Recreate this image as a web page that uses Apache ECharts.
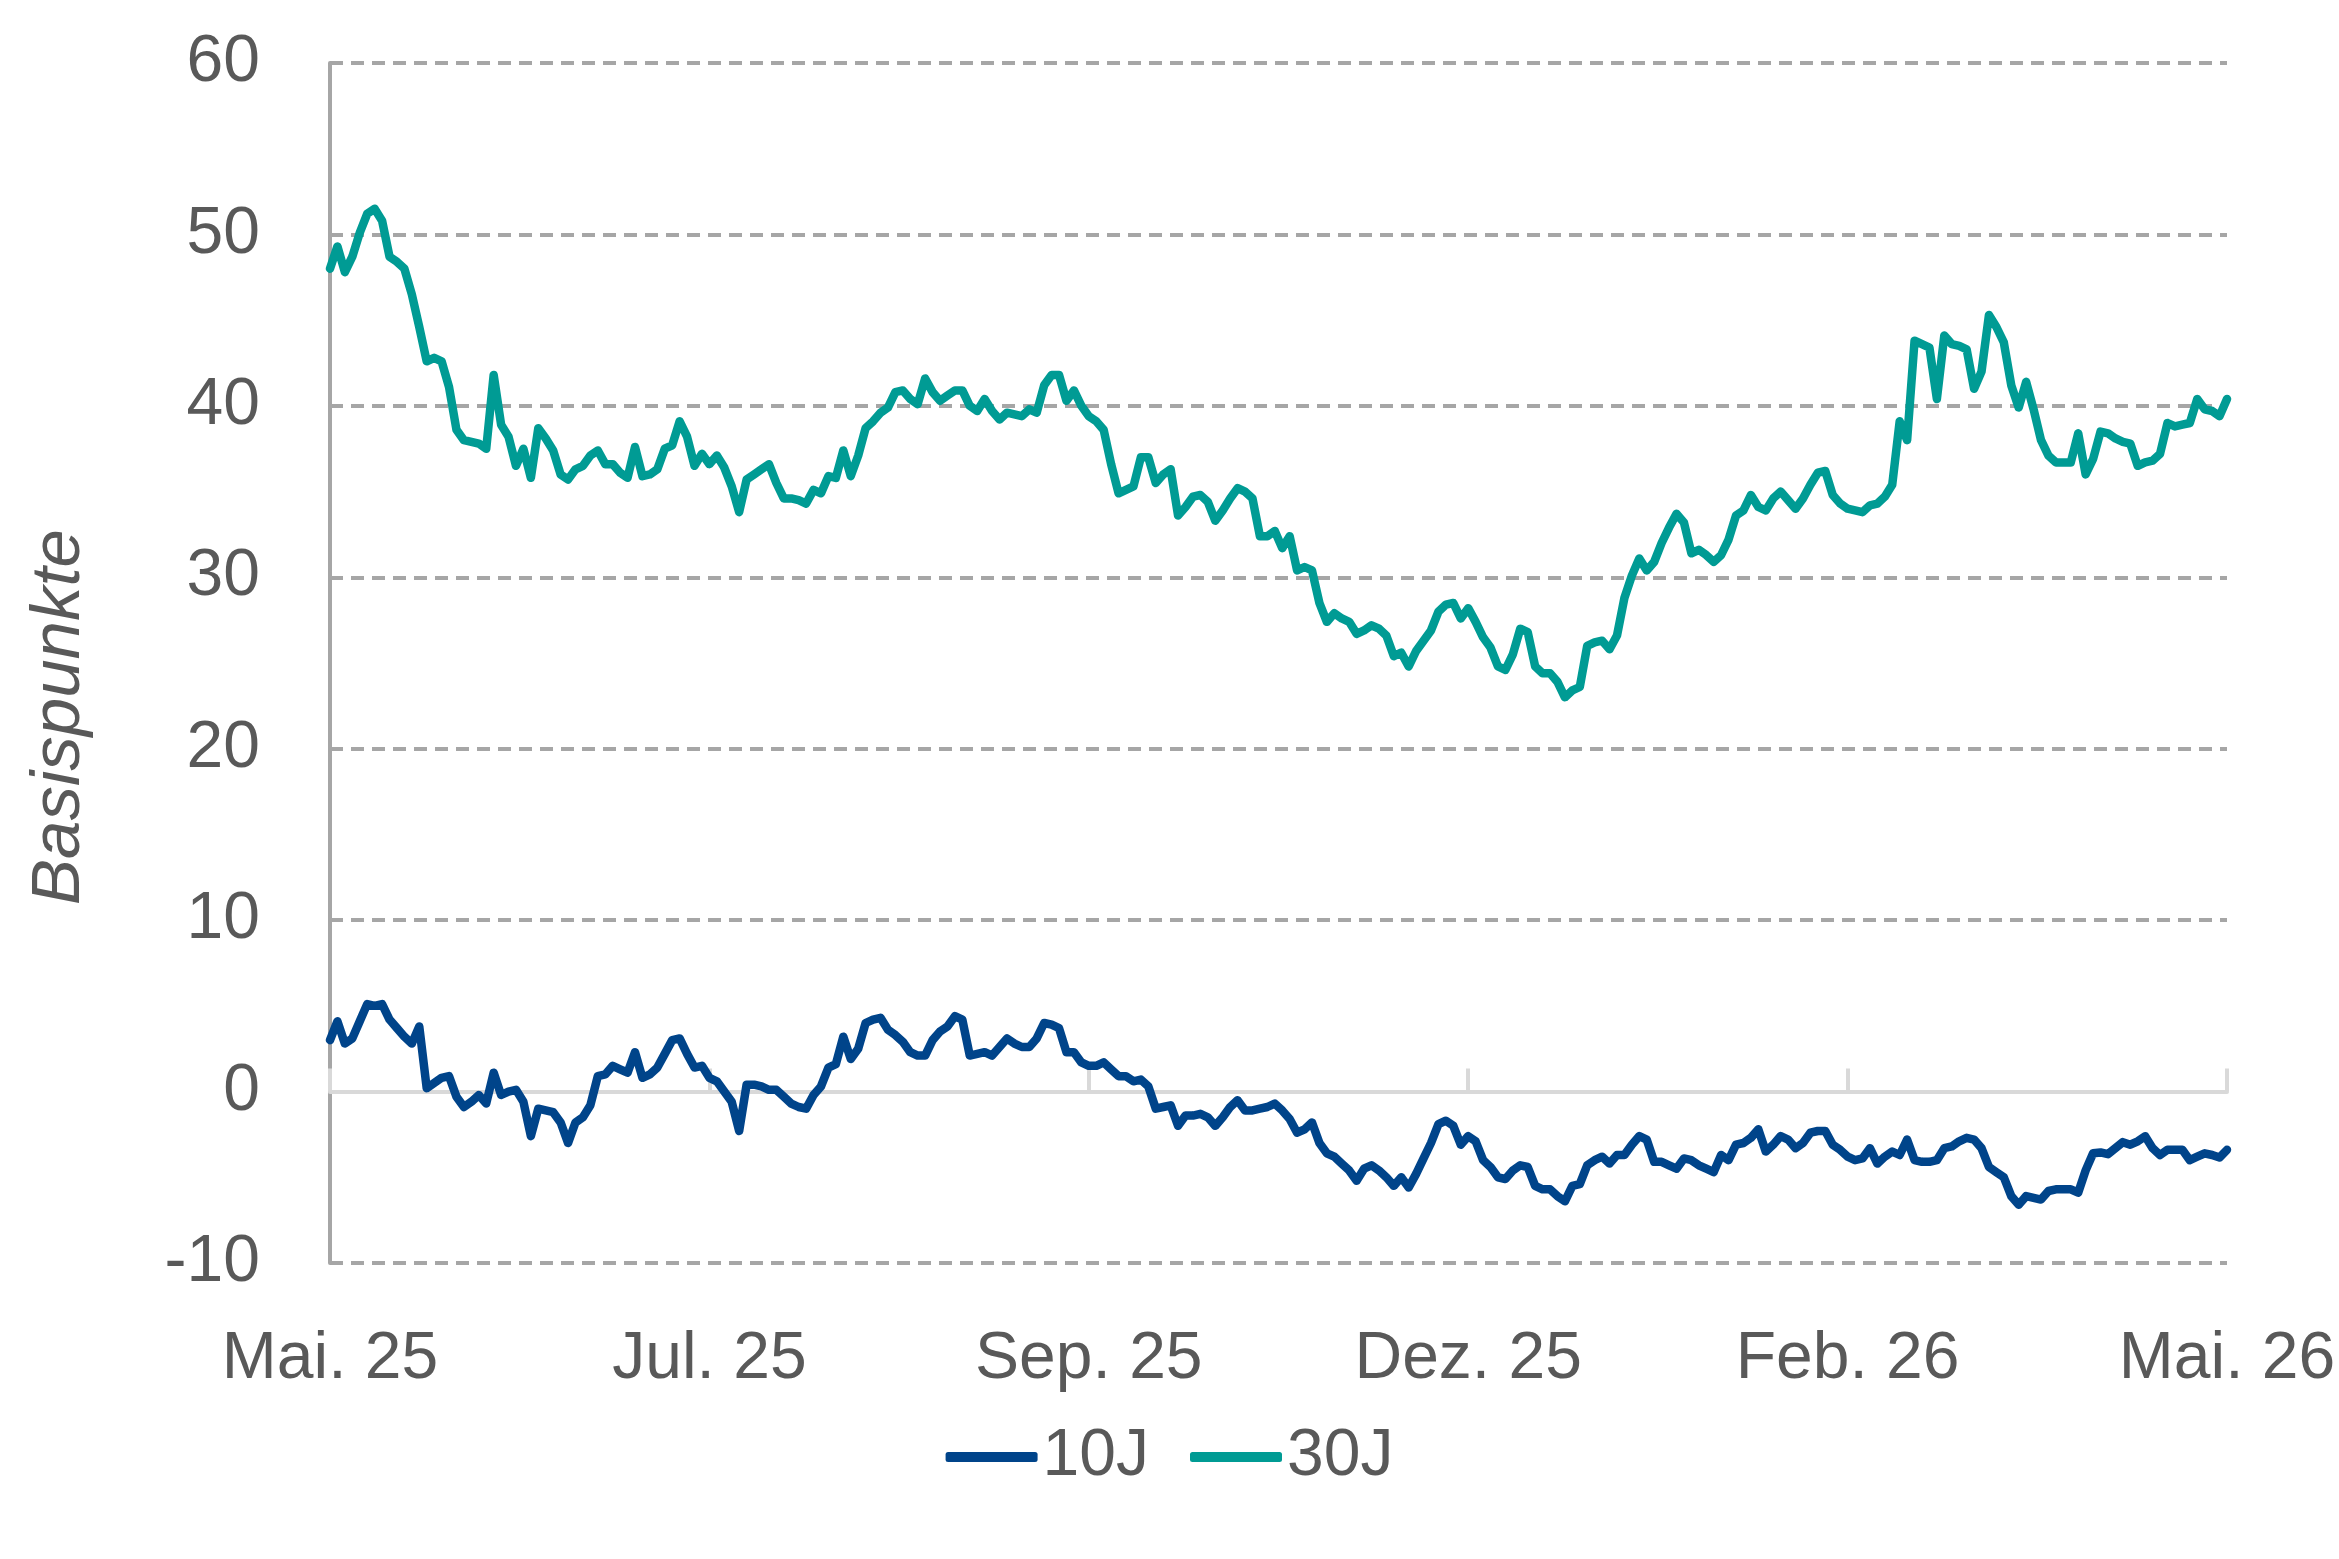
<!DOCTYPE html>
<html>
<head>
<meta charset="utf-8">
<script src="https://cdn.jsdelivr.net/npm/echarts@6/dist/echarts.min.js"></script>
<style>
html,body{margin:0;padding:0;background:#fff;}
#chart{width:2339px;height:1559px;}
</style>
</head>
<body>
<div id="chart"></div>
<script>
const tickLabels = ['Mai. 25', 'Jul. 25', 'Sep. 25', 'Dez. 25', 'Feb. 26', 'Mai. 26'];
const seriesNames = ['10J', '30J'];
const yTicks = [-10, 0, 10, 20, 30, 40, 50, 60];

const values10J = [
3.0,4.1,2.8,3.1,4.1,5.1,5.0,5.1,4.2,3.7,
3.2,2.8,3.8,0.2,0.5,0.8,0.9,-0.3,-0.9,-0.6,
-0.2,-0.7,1.1,-0.2,0.0,0.1,-0.6,-2.6,-1.0,-1.1,
-1.2,-1.8,-3.0,-1.8,-1.5,-0.8,0.9,1.0,1.5,1.3,
1.1,2.3,0.8,1.0,1.4,2.2,3.0,3.1,2.2,1.4,
1.5,0.8,0.6,0.0,-0.6,-2.3,0.4,0.4,0.3,0.1,
0.1,-0.3,-0.7,-0.9,-1.0,-0.2,0.3,1.4,1.6,3.2,
1.9,2.5,4.0,4.2,4.3,3.6,3.3,2.9,2.3,2.1,
2.1,3.0,3.5,3.8,4.4,4.2,2.1,2.2,2.3,2.1,
2.6,3.1,2.8,2.6,2.6,3.1,4.0,3.9,3.7,2.3,
2.3,1.7,1.5,1.5,1.7,1.3,0.9,0.9,0.6,0.7,
0.3,-1.0,-0.9,-0.8,-2.0,-1.4,-1.4,-1.3,-1.5,-2.0,
-1.5,-0.9,-0.5,-1.1,-1.1,-1.0,-0.9,-0.7,-1.1,-1.6,
-2.4,-2.2,-1.8,-3.0,-3.6,-3.8,-4.2,-4.6,-5.2,-4.5,
-4.3,-4.6,-5.0,-5.5,-5.0,-5.6,-4.8,-3.9,-3.0,-1.9,
-1.7,-2.0,-3.1,-2.6,-2.9,-4.0,-4.4,-5.0,-5.1,-4.6,
-4.3,-4.4,-5.5,-5.7,-5.7,-6.1,-6.4,-5.5,-5.4,-4.3,
-4.0,-3.8,-4.2,-3.7,-3.7,-3.1,-2.6,-2.8,-4.1,-4.1,
-4.3,-4.5,-3.9,-4.0,-4.3,-4.5,-4.7,-3.7,-4.0,-3.1,
-3.0,-2.7,-2.2,-3.5,-3.1,-2.6,-2.8,-3.3,-3.0,-2.4,
-2.3,-2.3,-3.1,-3.4,-3.8,-4.0,-3.9,-3.3,-4.2,-3.8,
-3.5,-3.7,-2.8,-4.0,-4.1,-4.1,-4.0,-3.3,-3.2,-2.9,
-2.7,-2.8,-3.3,-4.4,-4.7,-5.0,-6.1,-6.6,-6.1,-6.2,
-6.3,-5.8,-5.7,-5.7,-5.7,-5.9,-4.6,-3.6,-3.55,-3.65,
-3.3,-2.95,-3.1,-2.9,-2.6,-3.3,-3.7,-3.4,-3.4,-3.4,
-4.0,-3.8,-3.6,-3.7,-3.85,-3.4
];

const values30J = [
48.0,49.3,47.8,48.7,50.1,51.2,51.5,50.8,48.7,48.4,
48.0,46.5,44.6,42.6,42.8,42.6,41.1,38.6,38.0,37.9,
37.8,37.5,41.8,38.9,38.2,36.5,37.5,35.8,38.7,38.1,
37.4,36.0,35.7,36.3,36.5,37.1,37.4,36.6,36.6,36.1,
35.8,37.6,35.9,36.0,36.3,37.5,37.7,39.1,38.2,36.5,
37.2,36.6,37.1,36.4,35.3,33.8,35.7,36.0,36.3,36.6,
35.5,34.6,34.6,34.5,34.3,35.1,34.9,35.9,35.8,37.4,
35.9,37.1,38.7,39.1,39.6,39.9,40.8,40.9,40.4,40.1,
41.6,40.8,40.3,40.6,40.9,40.9,40.0,39.7,40.4,39.7,
39.2,39.6,39.5,39.4,39.8,39.6,41.2,41.8,41.8,40.3,
40.9,40.0,39.4,39.1,38.6,36.6,34.9,35.1,35.3,37.0,
37.0,35.5,36.0,36.3,33.6,34.1,34.7,34.8,34.4,33.3,
33.9,34.6,35.2,35.0,34.6,32.4,32.4,32.7,31.7,32.4,
30.4,30.6,30.4,28.5,27.4,27.9,27.6,27.4,26.7,26.9,
27.2,27.0,26.6,25.4,25.6,24.8,25.7,26.3,26.9,28.0,
28.4,28.5,27.6,28.2,27.4,26.5,25.9,24.8,24.6,25.5,
27.0,26.8,24.8,24.4,24.4,23.9,23.0,23.4,23.6,26.0,
26.2,26.3,25.8,26.6,28.8,30.1,31.1,30.4,30.9,32.0,
32.9,33.7,33.2,31.4,31.6,31.3,30.9,31.3,32.2,33.6,
33.9,34.8,34.1,33.9,34.6,35.0,34.5,34.0,34.6,35.4,
36.1,36.2,34.8,34.3,34.0,33.9,33.8,34.2,34.3,34.7,
35.4,39.1,38.0,43.8,43.6,43.4,40.4,44.1,43.6,43.5,
43.3,41.0,42.0,45.3,44.6,43.7,41.2,39.9,41.4,39.8,
38.0,37.1,36.7,36.7,36.7,38.4,36.0,36.9,38.5,38.4,
38.1,37.9,37.8,36.5,36.7,36.8,37.2,39.0,38.8,38.9,
39.0,40.4,39.8,39.7,39.4,40.4
];

// one category per observation; a tick label every 51 observations
const labelStep = 51;
const categories = values10J.map((_, i) => 'd' + i);

const FONT = '"Liberation Sans", Arial, sans-serif';
const TEXT = '#595959';

const chart = echarts.init(document.getElementById('chart'), null, {renderer: 'canvas'});
chart.setOption({
  animation: false,
  backgroundColor: '#ffffff',
  grid: {left: 330, right: 112, top: 63, bottom: 296, containLabel: false},
  legend: {
    data: seriesNames,
    left: 'center',
    top: 1419,
    icon: 'roundRect',
    itemWidth: 92,
    itemHeight: 10,
    itemGap: 41,
    textStyle: {fontSize: 66, color: TEXT, fontFamily: FONT}
  },
  xAxis: [
    {
      type: 'category',
      data: categories,
      boundaryGap: false,
      z: 1,
      axisLine: {show: true, onZero: true, lineStyle: {color: '#d9d9d9', width: 4}},
      axisTick: {show: true, inside: true, length: 23, interval: labelStep - 1,
                 lineStyle: {color: '#d9d9d9', width: 4}},
      axisLabel: {show: false},
      splitLine: {show: false}
    },
    {
      type: 'category',
      data: categories,
      boundaryGap: false,
      position: 'bottom',
      axisLine: {show: false, onZero: false},
      axisTick: {show: false},
      splitLine: {show: false},
      axisLabel: {
        show: true,
        interval: labelStep - 1,
        margin: 64,
        fontSize: 66,
        color: TEXT,
        fontFamily: FONT,
        showMinLabel: true,
        showMaxLabel: true,
        formatter: (v, idx) => tickLabels[Math.round(idx / labelStep)]
      }
    }
  ],
  yAxis: {
    type: 'value',
    min: yTicks[0],
    max: yTicks[yTicks.length - 1],
    interval: 10,
    axisLine: {show: true, lineStyle: {color: '#a6a6a6', width: 4}},
    axisTick: {show: false},
    axisLabel: {fontSize: 66, color: TEXT, fontFamily: FONT, margin: 70},
    splitLine: {show: true, lineStyle: {color: '#a6a6a6', width: 4, type: [13, 8]}}
  },
  graphic: [{
    type: 'text',
    x: 60,
    y: 717,
    rotation: Math.PI / 2,
    style: {
      text: 'Basispunkte',
      fontSize: 69,
      fontStyle: 'italic',
      fontFamily: FONT,
      fill: TEXT,
      align: 'center',
      verticalAlign: 'middle'
    }
  }],
  series: [
    {
      name: seriesNames[0],
      type: 'line',
      data: values10J,
      showSymbol: false,
      symbol: 'none',
      z: 3,
      color: '#00448a',
      lineStyle: {color: '#00448a', width: 8.5, cap: 'round', join: 'round'}
    },
    {
      name: seriesNames[1],
      type: 'line',
      data: values30J,
      showSymbol: false,
      symbol: 'none',
      z: 3,
      color: '#009b94',
      lineStyle: {color: '#009b94', width: 8.5, cap: 'round', join: 'round'}
    }
  ]
});
</script>
</body>
</html>
